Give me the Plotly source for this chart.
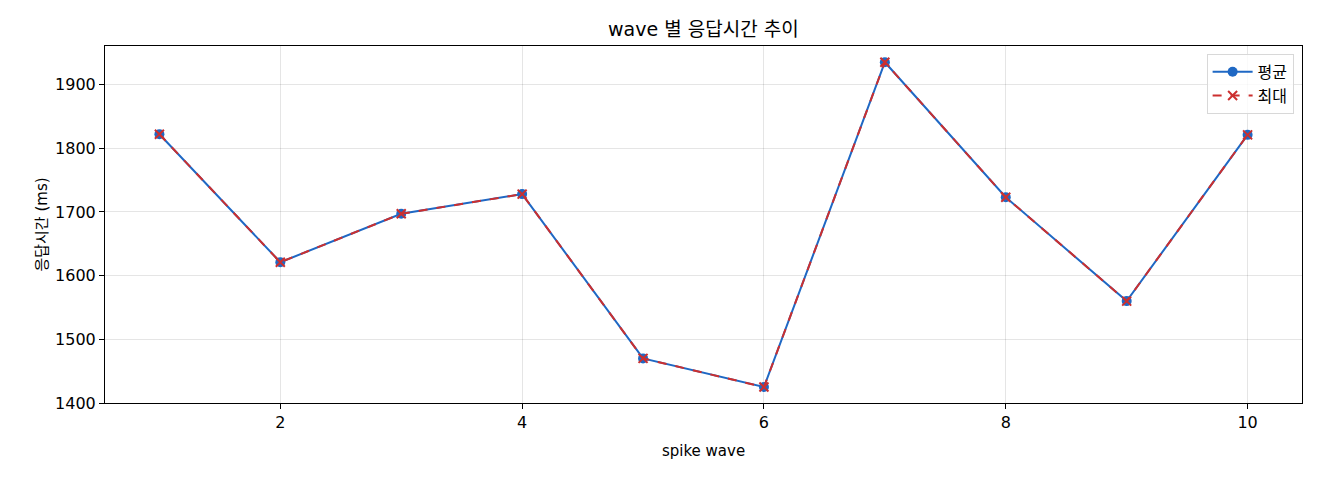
import plotly.graph_objects as go

waves = [1, 2, 3, 4, 5, 6, 7, 8, 9, 10]
avg_ms = [1822, 1621, 1697, 1728, 1470, 1425, 1935, 1723, 1560, 1821]
max_ms = [1822, 1621, 1697, 1728, 1470, 1425, 1935, 1723, 1560, 1821]
x_ticks = [2, 4, 6, 8, 10]
y_ticks = [1400, 1500, 1600, 1700, 1800, 1900]

# DejaVu for latin/digits, Korean falls back to Noto CJK
font = "DejaVu Sans, Noto Sans CJK KR, sans-serif"

fig = go.Figure()
fig.add_trace(go.Scatter(x=waves, y=avg_ms, name="평균", mode="lines+markers",
                         line=dict(color="#1f68c4", width=2),
                         marker=dict(symbol="circle", size=10, color="#1f68c4")))
fig.add_trace(go.Scatter(x=waves, y=max_ms, name="최대", mode="lines+markers",
                         line=dict(color="#cc2f2f", width=2, dash="dash"),
                         marker=dict(symbol="x-thin", size=9,
                                     line=dict(color="#cc2f2f", width=2))))

axis = dict(showline=True, linecolor="black", linewidth=1, mirror=True,
            ticks="outside", ticklen=5, tickcolor="black",
            showgrid=True, gridcolor="rgba(0,0,0,0.1)", gridwidth=1,
            zeroline=False, tickfont=dict(size=16, color="black"))

# page body adds ~8px offset top/left, so the figure is sized 8px smaller
fig.update_layout(
    width=1312, height=472,
    margin=dict(l=97, r=18, t=38, b=77),
    paper_bgcolor="white", plot_bgcolor="white",
    font=dict(family=font, color="black", size=15),
    title=dict(text="wave 별 응답시간 추이", x=0.53, xanchor="center",
               y=0.955, yanchor="middle", font=dict(size=19)),
    xaxis=dict(axis, range=[0.55, 10.45], tickvals=x_ticks,
               title=dict(text="spike wave", font=dict(size=15), standoff=14)),
    yaxis=dict(axis, range=[1400, 1960.5], tickvals=y_ticks,
               ticksuffix="\u00a0",
               title=dict(text="응답시간 (ms)", font=dict(size=15), standoff=3)),
    legend=dict(x=0.993, y=0.978, xanchor="right", yanchor="top",
                bgcolor="rgba(255,255,255,0.8)", bordercolor="#d8d8d8",
                borderwidth=1, font=dict(size=16), itemwidth=40,
                tracegroupgap=6),
    showlegend=True,
)

fig.write_html("out.html")
